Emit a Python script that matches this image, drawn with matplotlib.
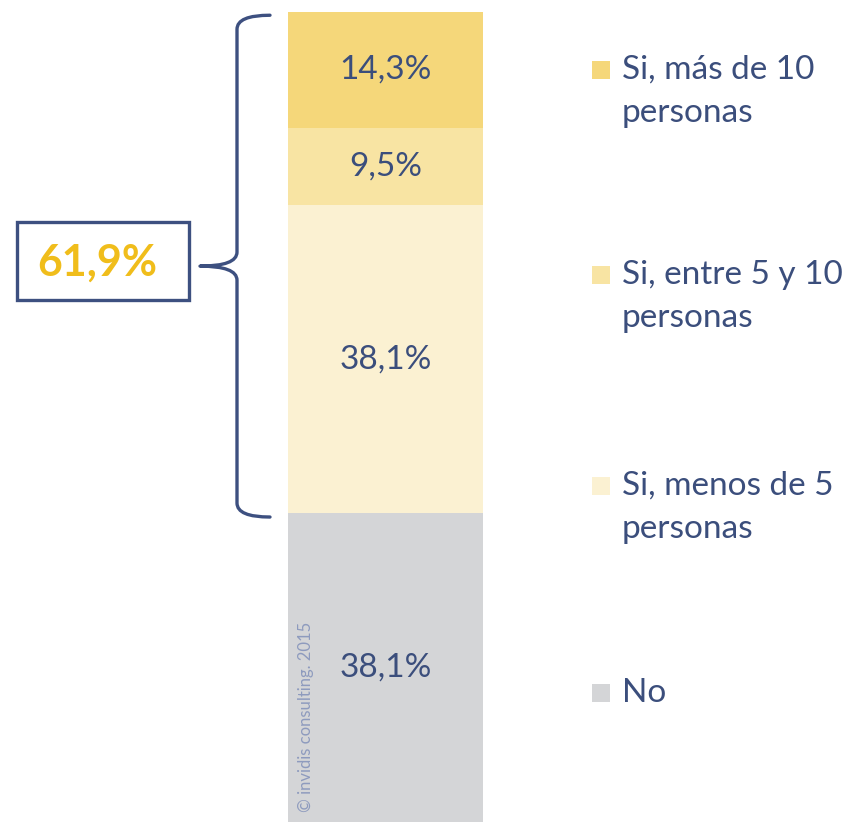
import matplotlib.pyplot as plt
from matplotlib.patches import Rectangle, PathPatch
from matplotlib.path import Path

plt.rcParams['font.family'] = ['Lato', 'DejaVu Sans']

# Data (bottom to top)
categories = ['No', 'Si, menos de 5\npersonas', 'Si, entre 5 y 10\npersonas', 'Si, más de 10\npersonas']
values = [38.1, 38.1, 9.5, 14.3]
colors = ['#D4D5D7', '#FBF1D2', '#F8E4A3', '#F5D77A']
legend_y = [693, 486, 275, 70]  # pixel rows of first legend line (from top)

W, H = 849, 822
TOP, BOT = 12, 822
px_per_pct = (BOT - TOP) / 100.0
text_col = '#3B4E7C'
line_col = '#3D5080'

fig = plt.figure(figsize=(W / 100, H / 100), dpi=100)
ax = fig.add_axes([0, 0, 1, 1])
ax.set_xlim(0, W)
ax.set_ylim(0, H / px_per_pct)
ax.axis('off')

def py(pix):
    # pixel row from top -> percent units on y
    return (H - pix) / px_per_pct

# stacked bar
bottom = 0
for v, c in zip(values, colors):
    ax.bar(385.5, v, width=195, bottom=bottom, color=c, edgecolor='none')
    ax.text(385.5, bottom + v / 2, f"{v:.1f}".replace('.', ',') + '%',
            ha='center', va='center', fontsize=24, color=text_col)
    bottom += v

# watermark
ax.text(306, py(812), '© invidis consulting. 2015', rotation=90, ha='center', va='bottom',
        fontsize=12, color='#8E9BBE')

# legend
for cat, c, ly in zip(categories, colors, legend_y):
    ax.add_patch(Rectangle((592, py(ly) - 9 / px_per_pct), 18, 18 / px_per_pct,
                           facecolor=c, edgecolor='none'))
    for i, line in enumerate(cat.split('\n')):
        ax.text(622, py(ly + i * 43), line, ha='left', va='center', fontsize=24,
                color=text_col)

# brace over the "Si" segments
y_lo = values[0] - 0.45
y_hi = 100 - 0.4
y_mid = (y_lo + y_hi) / 2
xl, xe, xt = 237, 270, 200
d = 14 / px_per_pct
verts = [
    (xe, y_hi), (xl, y_hi), (xl, y_hi - d),
    (xl, y_mid + d),
    (xl, y_mid), (xt, y_mid),
    (xl, y_mid), (xl, y_mid - d),
    (xl, y_lo + d),
    (xl, y_lo), (xe, y_lo),
]
codes = [Path.MOVETO, Path.CURVE3, Path.CURVE3, Path.LINETO,
         Path.CURVE3, Path.CURVE3, Path.CURVE3, Path.CURVE3,
         Path.LINETO, Path.CURVE3, Path.CURVE3]
ax.add_patch(PathPatch(Path(verts, codes), facecolor='none', edgecolor=line_col,
                       lw=2.4, capstyle='round', joinstyle='round'))

# total box
total = sum(values[1:])
ax.add_patch(Rectangle((17, py(300)), 172, 78 / px_per_pct, facecolor='none',
                       edgecolor=line_col, lw=2.4))
ax.text(97, py(263), f"{total:.1f}".replace('.', ',') + '%', ha='center', va='center',
        fontsize=31, fontweight='bold', color='#F0BD1B')

fig.savefig('out.png', dpi=100)
